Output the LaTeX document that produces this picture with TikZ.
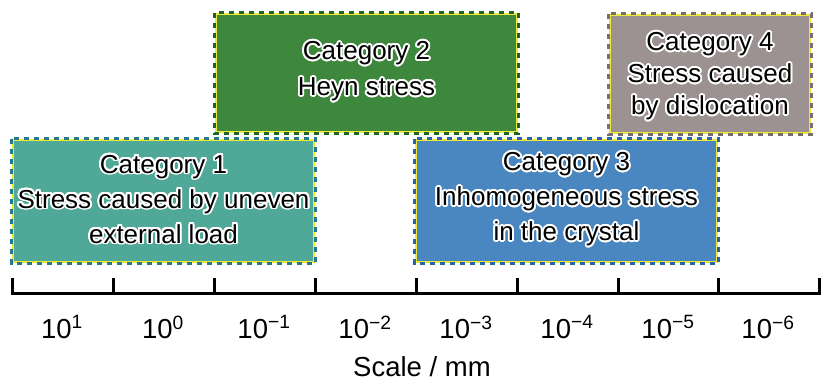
\documentclass[tikz,border=0pt]{standalone}
\usepackage{fontspec}
\setmainfont{Liberation Sans}
\usepackage{contour}
\contourlength{1.8pt}
\contournumber{20}
\definecolor{cteal}{RGB}{80,168,152}
\definecolor{cgreen}{RGB}{62,136,62}
\definecolor{cblue}{RGB}{74,134,192}
\definecolor{cgray}{RGB}{156,146,146}
\definecolor{cyel}{RGB}{236,232,60}
\definecolor{dteal}{RGB}{40,120,140}
\definecolor{dgreen}{RGB}{30,100,40}
\definecolor{dblue}{RGB}{40,100,170}
\definecolor{dgray}{RGB}{120,110,110}
\newcommand{\hl}[1]{\contour{white}{#1}}
\tikzset{
  catbox/.style={draw=cyel, line width=2.8pt, minimum height=#1, inner sep=0pt},
  cattext/.style={align=center, inner sep=0pt, font=\fontsize{26}{35}\selectfont},
  dashover/.style={draw=#1, line width=2.8pt, dash pattern=on 5pt off 5pt},
  tick/.style={line width=3pt},
  scalelbl/.style={font=\fontsize{27.5}{30}\selectfont},
}
\begin{document}
\begin{tikzpicture}[x=1pt,y=-1pt]
\useasboundingbox (0,0) rectangle (827,388);
% boxes
\node[catbox=122pt, fill=cteal, minimum width=301pt] (c1) at (163.5,201) {};
\draw[dashover=dteal] (c1.north west) rectangle (c1.south east);
\node[cattext] (l1) at ([yshift=1pt]c1.center) {\hl{Category 1}\\\hl{Stress caused by uneven}\\\hl{external load}};
\node[catbox=118pt, fill=cgreen, minimum width=301pt] (c2) at (366.5,73) {};
\draw[dashover=dgreen] (c2.north west) rectangle (c2.south east);
\node[cattext, font=\fontsize{26}{36}\selectfont] (l2) at ([yshift=1pt]c2.center) {\hl{Category 2}\\\hl{Heyn stress}};
\node[catbox=122pt, fill=cblue, minimum width=301pt] (c3) at (566.5,201) {};
\draw[dashover=dblue] (c3.north west) rectangle (c3.south east);
\node[cattext] (l3) at ([yshift=1pt]c3.center) {\hl{Category 3}\\\hl{Inhomogeneous stress}\\\hl{in the crystal}};
\node[catbox=118pt, fill=cgray, minimum width=200pt] (c4) at (710,74) {};
\draw[dashover=dgray] (c4.north west) rectangle (c4.south east);
\node[cattext, font=\fontsize{26}{32}\selectfont] (l4) at ([yshift=-3pt]c4.center) {\hl{Category 4}\\\hl{Stress caused}\\\hl{by dislocation}};
% axis
\foreach \i/\x in {0/12,1/113,2/214,3/315,4/416,5/517,6/618,7/718,8/819}{
  \coordinate (t\i) at (\x,293);
  \coordinate (u\i) at (\x,278);
}
\draw[tick, line cap=butt] ([xshift=-1.5pt]t0) -- ([xshift=1.5pt]t8);
\foreach \i in {0,...,8}{ \draw[tick] ([yshift=-1.5pt]t\i) -- (u\i); }
\foreach \x/\e in {62/1,163/0,264/{−1},365/{−2},466/{−3},567/{−4},668/{−5},768/{−6}}{
  \node[scalelbl] at (\x,327) {10\textsuperscript{\e}};
}
\node[scalelbl] (sc) at (422,367) {Scale / mm};
\end{tikzpicture}
\end{document}
